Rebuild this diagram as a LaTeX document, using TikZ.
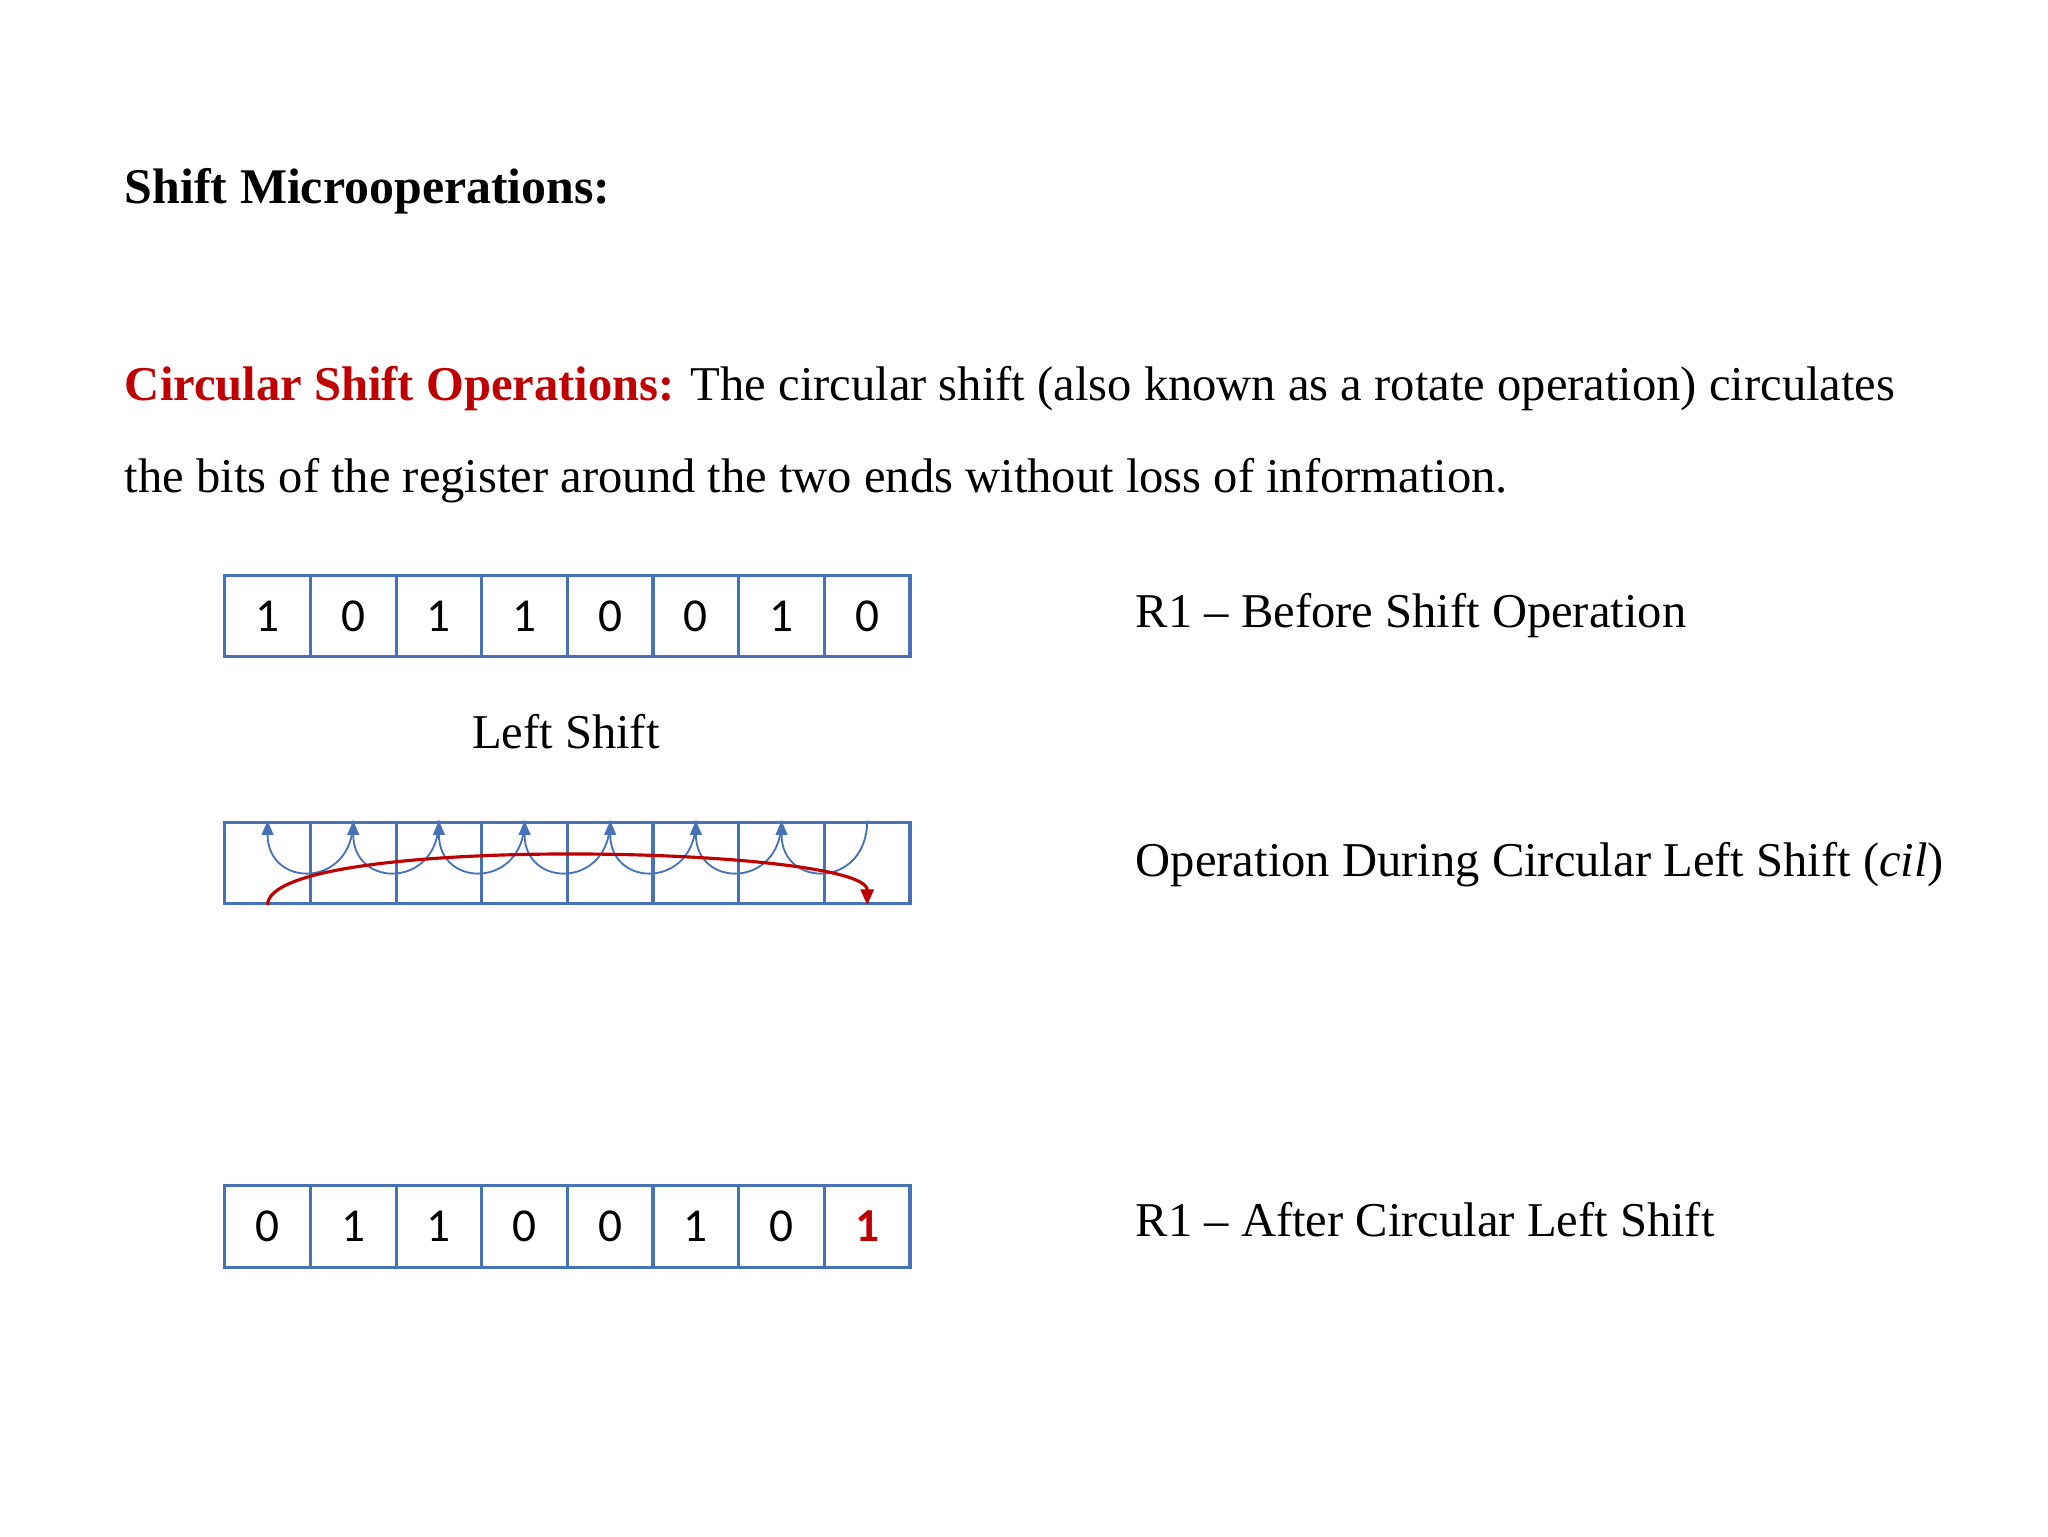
\documentclass[tikz,border=0pt]{standalone}
\usepackage{fontspec}
\setmainfont{Liberation Serif}
\newfontfamily\digitfont{Carlito}
\usetikzlibrary{arrows.meta}
\definecolor{cellblue}{RGB}{70,114,184}
\definecolor{darkred}{RGB}{192,0,0}
\tikzset{
  cell/.style={draw=cellblue,line width=2.4pt,minimum width=65.25pt,minimum height=62pt,inner sep=0pt,font=\digitfont\fontsize{36}{40}\selectfont,anchor=north west},
  txt/.style={anchor=base west,inner sep=0pt,font=\fontsize{37}{44}\selectfont},
  hop/.style={draw=cellblue,line width=1.4pt,-{Triangle[width=9pt,length=11pt]}},
}
\begin{document}
\begin{tikzpicture}[x=1pt,y=-1pt]
\useasboundingbox (0,0) rectangle (1560,1170);
\node[txt,font=\bfseries\fontsize{38}{44}\selectfont] (title) at (95,155) {Shift Microoperations:};
\node[txt] (p1) at (95,305) {\textcolor{darkred}{\textbf{Circular Shift Operations:}} The circular shift (also known as a rotate operation) circulates};
\node[txt] (p2) at (95,375) {the bits of the register around the two ends without loss of information.};
% rows
\foreach \v [count=\i from 0] in {1,0,1,1,0,0,1,0}{
  \node[cell] (a\i) at (170+65.25*\i,437) {\v};
  \node[cell] (b\i) at (170+65.25*\i,625) {};
}
\foreach \v [count=\i from 0] in {0,1,1,0,0,1,0,\textcolor{darkred}{\textbf{1}}}{
  \node[cell] (c\i) at (170+65.25*\i,902) {\v};
}
\node[txt,anchor=base] (ls) at (431,570) {Left Shift};
\foreach \i [evaluate=\i as \j using int(\i-1)] in {1,...,7}{
  \draw[hop] (b\i.north) .. controls ([yshift=-52]b\i.north) and ([yshift=-52]b\j.north) .. (b\j.north);
}
\draw[darkred,line width=2.4pt,-{Triangle[width=10pt,length=12pt]}] (b0.south) .. controls ([yshift=55]b0.south) and ([yshift=45]b7.south) .. (b7.south);
\node[txt] (l1) at (865,478) {R1 -- Before Shift Operation};
\node[txt] (l2) at (865,668) {Operation During Circular Left Shift (\textit{cil})};
\node[txt] (l3) at (865,942) {R1 -- After Circular Left Shift};
\end{tikzpicture}
\end{document}
